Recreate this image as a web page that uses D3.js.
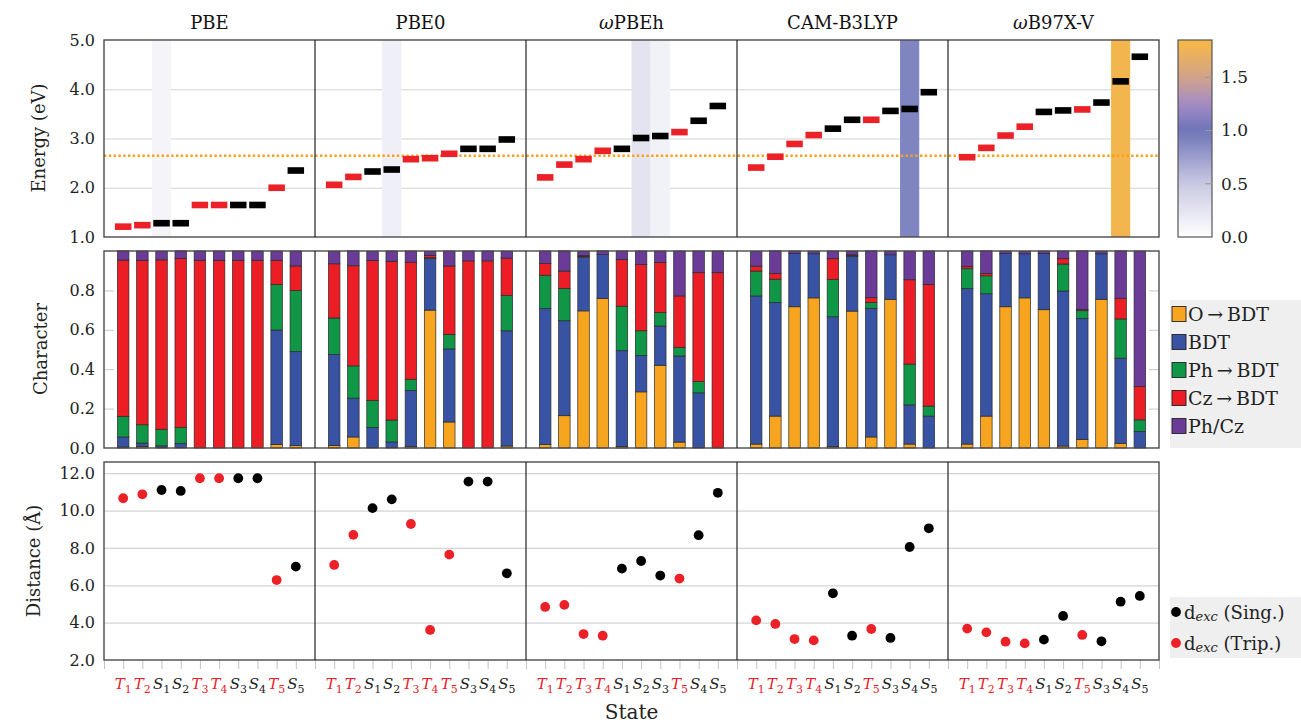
<!DOCTYPE html>
<html><head><meta charset="utf-8">
<script src="https://cdn.jsdelivr.net/npm/d3@7"></script>
<style>body{margin:0;background:#fff} svg text{font-family:"DejaVu Serif","Liberation Serif",serif !important}</style>
</head><body><svg id="c" width="1301" height="723"></svg>
<script>
const methods = ["PBE","PBE0","ωPBEh","CAM-B3LYP","ωB97X-V"];
const stateOrder = [
 ["T1","T2","S1","S2","T3","T4","S3","S4","T5","S5"],
 ["T1","T2","S1","S2","T3","T4","T5","S3","S4","S5"],
 ["T1","T2","T3","T4","S1","S2","S3","T5","S4","S5"],
 ["T1","T2","T3","T4","S1","S2","T5","S3","S4","S5"],
 ["T1","T2","T3","T4","S1","S2","T5","S3","S4","S5"]
];
const energies = [
 [1.21,1.24,1.28,1.28,1.65,1.65,1.65,1.65,2.00,2.35],
 [2.06,2.22,2.33,2.37,2.58,2.60,2.69,2.79,2.79,2.98],
 [2.21,2.47,2.58,2.75,2.79,3.01,3.05,3.13,3.36,3.66],
 [2.41,2.63,2.89,3.07,3.20,3.38,3.38,3.56,3.60,3.94],
 [2.62,2.81,3.06,3.24,3.54,3.57,3.59,3.73,4.16,4.66]
];
const oscStrength = [
 [0,0,0.10,0,0,0,0,0,0,0],
 [0,0,0,0.15,0,0,0,0,0,0],
 [0,0,0,0,0,0.25,0.13,0,0,0],
 [0,0,0,0,0,0,0,0,0.9,0],
 [0,0,0,0,0,0,0,0,1.8,0]
];
const referenceEnergy = 2.65;
const charKeys = ["O→BDT","BDT","Ph→BDT","Cz→BDT","Ph/Cz"];
const charO = [
 [0.005,0.008,0.003,0.002,0,0,0,0,0.017,0.012],
 [0.013,0.056,0.003,0.002,0.007,0.70,0.132,0,0,0.01],
 [0.017,0.164,0.696,0.759,0.008,0.285,0.42,0.03,0.003,0],
 [0.02,0.162,0.717,0.762,0.008,0.695,0.056,0.755,0.02,0],
 [0.02,0.162,0.717,0.762,0.702,0.01,0.044,0.755,0.024,0]
];
const charBDT = [
 [0.051,0.017,0.008,0.02,0,0,0,0,0.582,0.477],
 [0.462,0.197,0.101,0.029,0.285,0.261,0.371,0,0,0.585],
 [0.691,0.482,0.273,0.223,0.486,0.184,0.199,0.437,0.277,0],
 [0.752,0.577,0.27,0.224,0.658,0.278,0.653,0.226,0.199,0.162],
 [0.789,0.621,0.27,0.224,0.285,0.787,0.614,0.231,0.432,0.084]
];
const charPh = [
 [0.105,0.093,0.084,0.083,0,0,0,0,0.231,0.31],
 [0.185,0.164,0.138,0.111,0.057,0.005,0.074,0,0,0.18],
 [0.169,0.164,0.003,0,0.226,0.126,0.069,0.044,0.057,0],
 [0.126,0.118,0,0,0.189,0.004,0.029,0,0.207,0.051],
 [0.101,0.091,0,0,0,0.137,0.039,0,0.199,0.059]
];
const charCz = [
 [0.793,0.835,0.86,0.857,0.953,0.953,0.953,0.953,0.123,0.125],
 [0.275,0.508,0.71,0.806,0.594,0.012,0.347,0.95,0.95,0.189],
 [0.059,0.088,0.005,0,0.236,0.336,0.253,0.261,0.553,0.89],
 [0.025,0.029,0,0,0.106,0.004,0.025,0,0.428,0.617],
 [0.012,0.012,0,0,0,0.027,0.007,0,0.105,0.169]
];
const charPhCz = [
 [0.047,0.047,0.044,0.039,0.047,0.047,0.047,0.047,0.047,0.076],
 [0.064,0.076,0.047,0.052,0.057,0.02,0.076,0.05,0.05,0.035],
 [0.064,0.103,0.022,0.019,0.044,0.069,0.059,0.228,0.11,0.11],
 [0.076,0.115,0.013,0.013,0.039,0.019,0.238,0.019,0.145,0.17],
 [0.078,0.115,0.013,0.013,0.013,0.039,0.297,0.013,0.241,0.688]
];
const distances = [
 [10.66,10.87,11.10,11.05,11.73,11.73,11.73,11.73,6.28,7.00],
 [7.09,8.70,10.13,10.60,9.28,3.61,7.64,11.55,11.55,6.64],
 [4.84,4.95,3.39,3.30,6.89,7.30,6.52,6.36,8.68,10.95],
 [4.12,3.93,3.12,3.05,5.57,3.30,3.66,3.18,8.05,9.05],
 [3.68,3.48,2.98,2.89,3.09,4.36,3.34,3.00,5.12,5.43]
];
const energyTicks = [1,2,3,4,5];
const charTicks = [0,0.2,0.4,0.6,0.8];
const distTicks = [2,4,6,8,10,12];
const cbarTicks = [0,0.5,1.0,1.5];

const charColors = ["#f7a51e","#3953a4","#0f9647","#ec1d25","#6a3b97"];
const RED = "#ec2027", BLACK = "#000";

const svg = d3.select("#c");
const L = 104, PW = 211, NP = methods.length, R = L + PW*NP;
const rows = {e:[40,237], c:[251,448], d:[462,660]};

const yE = d3.scaleLinear().domain([1,5]).range([237,40]);
const yC = d3.scaleLinear().domain([0,1]).range([448,251]);
const yD = d3.scaleLinear().domain([2,12.6]).range([660,462]);
const xP = i => d3.scaleLinear().domain([0,11]).range([L+i*PW, L+(i+1)*PW]);
const cScale = d3.scaleLinear().domain([0,0.5,1.0,1.25,1.5,1.85])
  .range(["#ffffff","#c9c9e3","#6d74b8","#a48cc6","#d2a38a","#f9b944"]);

function grid(scale, ticks){
  const g = svg.append("g").attr("transform",`translate(${L},0)`)
    .call(d3.axisLeft(scale).tickValues(ticks).tickSize(-(R-L)).tickFormat(""));
  g.select(".domain").remove();
  g.selectAll("line").attr("stroke","#d4d4d4").attr("stroke-width",1.2);
}
grid(yE,[2,3,4]);
grid(yD,[4,6,8,10,12]);
[[L,10],[R,-10]].forEach(([x,s])=>{
  const g = svg.append("g").attr("transform",`translate(${x},0)`)
   .call(d3.axisLeft(yC).tickValues([0.2,0.4,0.6,0.8]).tickSize(-s).tickFormat(""));
  g.select(".domain").remove();
  g.selectAll("line").attr("stroke","#c8c8c8");
});

methods.forEach((m,i)=>{
  const x = xP(i);
  const u = x(1)-x(0);
  svg.append("g").selectAll("rect").data(oscStrength[i].map((v,j)=>({v,j})).filter(d=>d.v>0))
    .join("rect").attr("x",d=>x(d.j+0.5)).attr("width",u).attr("y",rows.e[0]).attr("height",rows.e[1]-rows.e[0])
    .attr("fill",d=>cScale(d.v));
});
svg.append("line").attr("x1",L).attr("x2",R).attr("y1",yE(referenceEnergy)).attr("y2",yE(referenceEnergy))
  .attr("stroke","#f7a21b").attr("stroke-width",2.6).attr("stroke-dasharray","2.4,2.4");

methods.forEach((m,i)=>{
  const x = xP(i);
  const u = x(1)-x(0);
  const states = stateOrder[i];
  svg.append("g").selectAll("rect").data(energies[i]).join("rect")
    .attr("x",(d,j)=>x(j+1)-0.43*u).attr("width",0.86*u)
    .attr("y",d=>yE(d)-3.3).attr("height",6.6)
    .attr("fill",(d,j)=>states[j][0]==="T"?RED:BLACK);
  const table = states.map((s,j)=>({j, "O→BDT":charO[i][j], "BDT":charBDT[i][j], "Ph→BDT":charPh[i][j], "Cz→BDT":charCz[i][j], "Ph/Cz":charPhCz[i][j]}));
  const stack = d3.stack().keys(charKeys)(table);
  svg.append("g").selectAll("g").data(stack).join("g").attr("fill",(d,k)=>charColors[k])
    .selectAll("rect").data(d=>d).join("rect")
    .attr("x",d=>x(d.data.j+1)-0.3*u).attr("width",0.6*u)
    .attr("y",d=>yC(d[1])).attr("height",d=>Math.max(0,yC(d[0])-yC(d[1])))
    .attr("stroke","#2a2a2a").attr("stroke-width",0.7);
  svg.append("g").selectAll("circle").data(distances[i]).join("circle")
    .attr("cx",(d,j)=>x(j+1)).attr("cy",d=>yD(d)).attr("r",4.9)
    .attr("fill",(d,j)=>states[j][0]==="T"?RED:BLACK);
  const ax = svg.append("g").attr("transform",`translate(0,${rows.d[1]})`)
    .call(d3.axisBottom(x).tickValues(d3.range(0,12)).tickSize(9).tickFormat(""));
  ax.select(".domain").remove();
  ax.selectAll("line").attr("stroke","#c4c4c4");
  const lab = svg.append("g").selectAll("text").data(states).join("text")
    .attr("x",(d,j)=>x(j+1)).attr("y",689).attr("text-anchor","middle")
    .attr("fill",d=>d[0]==="T"?RED:"#222").attr("font-size",15);
  lab.append("tspan").attr("font-style","italic").text(d=>d[0]);
  lab.append("tspan").attr("font-size",11).attr("dy",4).text(d=>d.slice(1));
  const t = svg.append("text").attr("x",(x(0)+x(11))/2).attr("y",29).attr("text-anchor","middle").attr("font-size",18).attr("fill","#111");
  if(m[0]==="ω"){ t.append("tspan").attr("font-style","italic").text("ω"); t.append("tspan").text(m.slice(1)); }
  else t.text(m);
});

Object.values(rows).forEach(([y0,y1])=>{
  svg.append("rect").attr("x",L).attr("y",y0).attr("width",R-L).attr("height",y1-y0)
    .attr("fill","none").attr("stroke","#4a4a4a").attr("stroke-width",1.4);
  for(let i=1;i<NP;i++) svg.append("line").attr("x1",L+i*PW).attr("x2",L+i*PW).attr("y1",y0).attr("y2",y1)
    .attr("stroke","#222").attr("stroke-width",1.2);
});

function yAxis(scale, ticks){
  const g = svg.append("g").attr("transform",`translate(${L-6},0)`)
    .call(d3.axisLeft(scale).tickValues(ticks).tickSize(0).tickFormat(d3.format(".1f")));
  g.select(".domain").remove();
  g.selectAll("text").attr("font-size",16).attr("fill","#222");
}
yAxis(yE, energyTicks); yAxis(yC, charTicks); yAxis(yD, distTicks);

[["Energy (eV)",38,138],["Character",40,349],["Distance (Å)",33,561]].forEach(([s,x,y])=>{
  svg.append("text").attr("transform",`translate(${x},${y}) rotate(-90)`).attr("text-anchor","middle")
    .attr("dominant-baseline","central").attr("font-size",18).attr("fill","#222").text(s);
});
svg.append("text").attr("x",(L+R)/2).attr("y",719).attr("text-anchor","middle").attr("font-size",20).attr("fill","#222").text("State");

const cbX = 1178, cbW = 34;
const cbY = d3.scaleLinear().domain([0,1.85]).range([237,40]);
const grad = svg.append("defs").append("linearGradient").attr("id","cg").attr("x1",0).attr("x2",0).attr("y1",1).attr("y2",0);
d3.range(0,1.0001,0.05).forEach(t=>grad.append("stop").attr("offset",t).attr("stop-color",cScale(t*1.85)));
svg.append("rect").attr("x",cbX).attr("y",40).attr("width",cbW).attr("height",197).attr("fill","url(#cg)")
  .attr("stroke","#555").attr("stroke-width",1.2);
svg.append("g").selectAll("line").data([0.5,1.0,1.5]).join("line")
  .attr("x1",cbX+cbW-7).attr("x2",cbX+cbW).attr("y1",d=>cbY(d)).attr("y2",d=>cbY(d)).attr("stroke","#999");
const cba = svg.append("g").attr("transform",`translate(${cbX+cbW+6},0)`)
  .call(d3.axisRight(cbY).tickValues(cbarTicks).tickSize(0).tickFormat(d3.format(".1f")));
cba.select(".domain").remove();
cba.selectAll("text").attr("font-size",17).attr("fill","#222");

svg.append("rect").attr("x",1170).attr("y",300).attr("width",131).attr("height",148).attr("fill","#efefef");
const lg = svg.append("g").selectAll("g").data(charKeys).join("g")
  .attr("transform",(d,k)=>`translate(1172,${314+k*28})`);
lg.append("rect").attr("x",0).attr("y",-7.5).attr("width",14).attr("height",15)
  .attr("fill",(d,k)=>charColors[k]).attr("stroke","#222").attr("stroke-width",0.9);
lg.append("text").attr("x",16).attr("dominant-baseline","central").attr("font-size",19).attr("fill","#222")
  .text(d=>d.replace("→","\u2009→\u2009"));

svg.append("rect").attr("x",1170).attr("y",597).attr("width",131).attr("height",61).attr("fill","#efefef");
const dl = svg.append("g").selectAll("g").data([["(Sing.)",BLACK],["(Trip.)",RED]]).join("g")
  .attr("transform",(d,k)=>`translate(1176,${612+k*31})`);
dl.append("circle").attr("r",4.9).attr("fill",d=>d[1]);
const dt = dl.append("text").attr("x",8).attr("dominant-baseline","central").attr("font-size",18).attr("fill","#222");
dt.append("tspan").text("d");
dt.append("tspan").attr("font-style","italic").attr("font-size",13).attr("dy",4).text("exc");
dt.append("tspan").attr("dy",-4).text(d=>"\u00a0"+d[0]);
</script></body></html>
